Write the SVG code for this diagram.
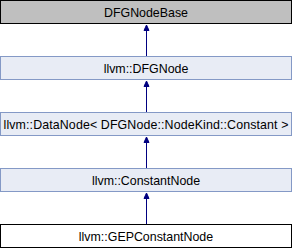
<svg xmlns="http://www.w3.org/2000/svg" width="292" height="248" viewBox="0 0 292 248">
<style>
.box{fill:#E8ECF5;stroke:#8499C6;stroke-width:1}
.top{fill:#BFBFBF;stroke:#000000;stroke-width:1}
.cur{fill:#FFFFFF;stroke:#000000;stroke-width:1}
text{font-family:"Liberation Sans",Arial,sans-serif;font-size:12.4px;fill:#000000;text-anchor:middle}
.edge{stroke:#000080;stroke-width:1;fill:none}
.head{fill:#000080;stroke:#000080;stroke-width:1}
</style>
<rect width="292" height="248" fill="#FFFFFF"/>
<g id="node-DFGNodeBase"><rect class="top" x="0.5" y="0.5" width="291" height="23"/><text x="146" y="16.5">DFGNodeBase</text></g>
<g id="node-DFGNode"><rect class="box" x="0.5" y="56.5" width="291" height="23"/><text x="146" y="72.5">llvm::DFGNode</text></g>
<g id="node-DataNode"><rect class="box" x="0.5" y="112.5" width="291" height="23"/><text x="146" y="128.5" textLength="285" lengthAdjust="spacing">llvm::DataNode&lt; DFGNode::NodeKind::Constant &gt;</text></g>
<g id="node-ConstantNode"><rect class="box" x="0.5" y="168.5" width="291" height="23"/><text x="146" y="184.5">llvm::ConstantNode</text></g>
<g id="node-GEPConstantNode"><rect class="cur" x="0.5" y="224.5" width="291" height="23"/><text x="146" y="240.5">llvm::GEPConstantNode</text></g>
<g id="connectors">
<line class="edge" x1="146.5" y1="56" x2="146.5" y2="30"/>
<polygon class="head" points="146.5,25 144,30.5 149,30.5"/>
<line class="edge" x1="146.5" y1="112" x2="146.5" y2="86"/>
<polygon class="head" points="146.5,81 144,86.5 149,86.5"/>
<line class="edge" x1="146.5" y1="168" x2="146.5" y2="142"/>
<polygon class="head" points="146.5,137 144,142.5 149,142.5"/>
<line class="edge" x1="146.5" y1="224" x2="146.5" y2="198"/>
<polygon class="head" points="146.5,193 144,198.5 149,198.5"/>
</g>
</svg>
